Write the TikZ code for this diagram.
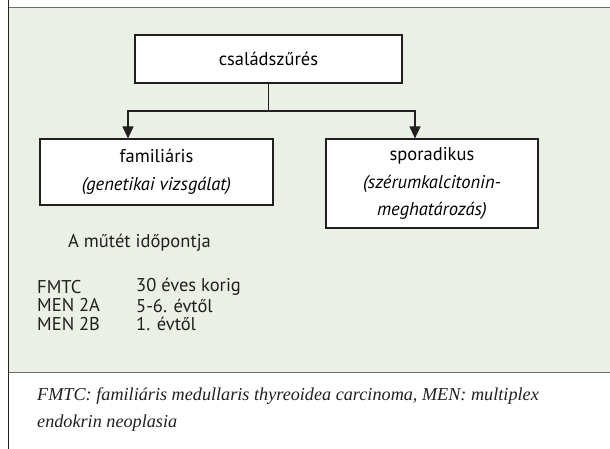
\documentclass[tikz,border=0pt]{standalone}
\usepackage{fontspec}
\setmainfont{PT Sans}
\newfontfamily\notefont{Liberation Serif}
\usepackage{xcolor}
\usetikzlibrary{arrows.meta}
\definecolor{panel}{HTML}{EAF0E6}
\definecolor{ink}{HTML}{231F20}
\definecolor{rule}{HTML}{6E6E6E}
\tikzset{
  box/.style={draw=ink, fill=white, line width=1.2pt, align=center, font=\fontsize{18.5}{27.5}\selectfont},
  link/.style={draw=ink, line width=1.2pt},
  arr/.style={link, -{Triangle[length=12pt,width=11pt]}},
  lab/.style={text=ink, anchor=west, font=\fontsize{18.5}{22}\selectfont, inner sep=0pt},
  note/.style={text=ink, anchor=west, font=\notefont\itshape\fontsize{18.2}{22}\selectfont, inner sep=0pt},
}

\begin{document}
\begin{tikzpicture}[x=1pt,y=-1pt]
  \useasboundingbox (0,0) rectangle (610,449);
  \fill[panel] (8,8) rectangle (610,372);
  \draw[rule, line width=1pt] (8,8) -- (610,8);
  \draw[rule, line width=1pt] (8,372) -- (610,372);
  \draw[ink, line width=1pt] (8,0) -- (8,449);
  % boxes
  \node[box, minimum width=267pt, minimum height=48pt] (screen) at (268.5,59) {családszűrés};
  \node[box, minimum width=233pt, minimum height=66pt] (famil) at (156.5,172) {familiáris\\\textit{(genetikai vizsgálat)}};
  \node[box, minimum width=212pt, minimum height=89pt] (spor) at (432,183.5) {sporadikus\\\textit{(szérumkalcitonin-}\\\textit{meghatározás)}};
  \coordinate (split) at (268.5,111);
  \draw[link] (screen.south) -- (split);
  \draw[arr] (split) -| (famil.north -| 128,0);
  \draw[arr] (split) -| (spor.north -| 415,0);
  % timing
  \node[lab] (when) at (68,243) {A műtét időpontja};
  \node[lab] (fmtc) at (37,287) {FMTC};
  \node[lab] (mena) at (37,305.5) {MEN 2A};
  \node[lab] (menb) at (37,324) {MEN 2B};
  \node[lab] (fmtcv) at (136,287) {30 éves korig};
  \node[lab] (menav) at (136,305.5) {5-6. évtől};
  \node[lab] (menbv) at (136,324) {1. évtől};
  % footnote
  \node[note] (n1) at (37,396) {FMTC: familiáris medullaris thyreoidea carcinoma, MEN: multiplex};
  \node[note] (n2) at (37,423) {endokrin neoplasia};
\end{tikzpicture}
\end{document}
